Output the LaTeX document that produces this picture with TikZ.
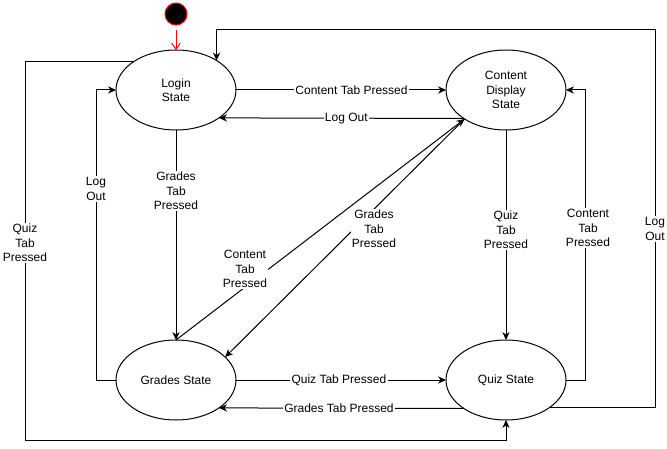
\documentclass[tikz,border=0pt]{standalone}
\usepackage{fontspec}
\setmainfont{Liberation Sans}
\usetikzlibrary{shapes.geometric,arrows.meta}
\begin{document}
\begin{tikzpicture}[x=0.75pt,y=-0.75pt,
  state/.style={ellipse,draw,line width=0.75pt,minimum width=90pt,minimum height=60pt,inner sep=0pt,outer sep=0pt,align=center,font=\fontsize{9}{10.9}\selectfont},
  arr/.style={line width=0.75pt,-{Stealth[length=6pt,width=5.5pt]}},
  lbl/.style={fill=white,inner sep=1pt,align=center,font=\fontsize{9}{10.9}\selectfont},
  startdot/.style={circle,draw=red,fill=black,minimum size=16.5pt,inner sep=0pt,line width=0.75pt},
  initarr/.style={draw=red,line width=0.75pt,-{Straight Barb[length=4.5pt,width=6.5pt]},shorten <=3.75pt}
]
\useasboundingbox (0,0) rectangle (667,449);

% states
\node[state] (login) at (176,90) {Login\\State};
\node[state] (content) at (506,90) {Content\\Display\\State};
\node[state] (grades) at (176,380) {Grades State};
\node[state] (quiz) at (506,380) {Quiz State};
\node[startdot] (start) at (176,14) {};

% corner coordinates
\coordinate (qb) at (25,440);
\coordinate (lb) at (96,90);
\coordinate (cb) at (585,90);
\coordinate (ob) at (655,30);

% initial
\draw[initarr] (start) -- (login);

% login <-> content
\draw[arr] (login.east) -- node[lbl,pos=0.55] (l1) {Content Tab Pressed} (content.west);
\draw[arr] (content.-146.9) -- node[lbl,pos=0.48] (l2) {Log Out} (login.-33.1);

% login -> grades
\draw[arr] (login.south) -- node[lbl,pos=0.29] (l3) {Grades\\Tab\\Pressed} (grades.north);

% login -> quiz (outer left loop)
\draw[arr] (login.146.9) -| (qb) -| (quiz.south);
\node[lbl] (l4) at (25,243) {Quiz\\Tab\\Pressed};

% grades -> login
\draw[arr] (grades.west) -| (lb) -- (login.west);
\node[lbl] (l5) at (96,189) {Log\\Out};

% diagonals
\draw[arr] (grades.north) -- (content.-145);
\draw[arr] (content.-145) -- (grades.25);
\node[lbl] (l6) at (245,269) {Content\\Tab\\Pressed};
\node[lbl] (l7) at (374,229) {Grades\\Tab\\Pressed};

% content -> quiz
\draw[arr] (content.south) -- node[lbl,pos=0.476] (l8) {Quiz\\Tab\\Pressed} (quiz.north);

% quiz -> content
\draw[arr] (quiz.east) -| (cb) -- (content.east);
\node[lbl] (l9) at (588,228) {Content\\Tab\\Pressed};

% quiz -> login (outer right loop)
\draw[arr] (quiz.-33.1) -| (ob) -| (login.36.7);
\node[lbl] (l10) at (655,229) {Log\\Out};

% grades <-> quiz
\draw[arr] (grades.east) -- node[lbl,pos=0.49] (l11) {Quiz Tab Pressed} (quiz.west);
\draw[arr] (quiz.-146.9) -- node[lbl,pos=0.51] (l12) {Grades Tab Pressed} (grades.-33.1);
\end{tikzpicture}
\end{document}
